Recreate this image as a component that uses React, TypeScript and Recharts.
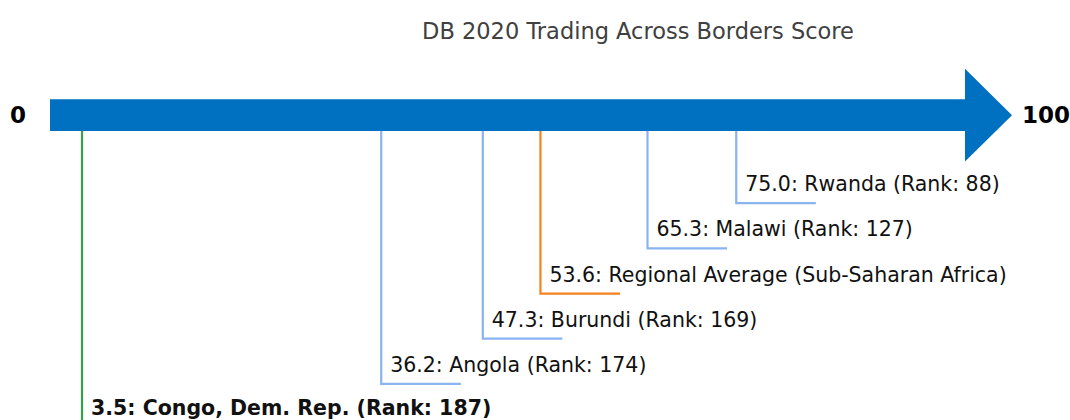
import { ComposedChart, XAxis, YAxis, Line, ReferenceArea } from 'recharts';

const title = 'DB 2020 Trading Across Borders Score';
const economies = ['Congo, Dem. Rep.', 'Angola', 'Burundi', 'Regional Average (Sub-Saharan Africa)', 'Malawi', 'Rwanda'];
const scores = [3.5, 36.2, 47.3, 53.6, 65.3, 75.0];
const ranks = [187, 174, 169, null, 127, 88];
const levels = [5.95, 5, 4, 3, 2, 1];
const kinds = ['focus', 'peer', 'peer', 'average', 'peer', 'peer'];
const scaleEnds = [0, 100];

const COLORS: Record<string, string> = { focus: '#34a24a', peer: '#8ab4f0', average: '#f5821f' };
const ARROW_BLUE = '#0070c0';
const FONT = '"DejaVu Sans", sans-serif';
const SHAFT: [number, number] = [-1.3, -0.6]; // arrow body, in the same units as the levels
const TAIL = 8.7; // horizontal leader length, in score units

const items = economies.map((name, i) => ({
  name,
  kind: kinds[i],
  label: `${scores[i].toFixed(1)}: ${name}${ranks[i] != null ? ` (Rank: ${ranks[i]})` : ''}`,
  points: [
    { x: scores[i], y: SHAFT[1] },
    { x: scores[i], y: levels[i] },
    { x: scores[i] + TAIL, y: levels[i] },
  ],
}));

function Arrow(props: any) {
  const top = Math.min(props.y, props.y + props.height);
  const h = Math.abs(props.height);
  const x0 = props.x;
  const x1 = props.x + props.width;
  const cy = top + h / 2;
  const headHalf = (h / 2) * 2.94;
  const headLen = 47;
  const d = `M${x0},${top} H${x1} V${cy - headHalf} L${x1 + headLen},${cy} L${x1},${cy + headHalf} V${top + h} H${x0} Z`;
  const endStyle = { fontFamily: FONT, fontSize: 23, fontWeight: 'bold' as const, fill: '#000' };
  return (
    <g>
      <path d={d} fill={ARROW_BLUE} />
      <text x={x0 - 24} y={cy + 8} textAnchor="end" style={endStyle}>{scaleEnds[0]}</text>
      <text x={x1 + headLen + 10} y={cy + 8} textAnchor="start" style={endStyle}>{scaleEnds[1]}</text>
    </g>
  );
}

const labelDot = (item: (typeof items)[number]) => (p: any) => {
  if (p.index !== 1) return <g key={`d-${item.name}-${p.index}`} />;
  return (
    <text
      key={`d-${item.name}-${p.index}`}
      x={p.cx + 9}
      y={p.cy - 12}
      textAnchor="start"
      style={{
        fontFamily: FONT,
        fontSize: 20.5,
        fontWeight: item.kind === 'focus' ? 'bold' : 'normal',
        fill: '#111',
      }}
    >
      {item.label}
    </text>
  );
};

export default function App() {
  return (
    <div
      style={{
        position: 'absolute',
        left: 0,
        top: 0,
        width: 1070,
        height: 420,
        overflow: 'hidden',
        background: '#fff',
      }}
    >
      <div
        style={{
          position: 'absolute',
          top: 20,
          left: 638,
          transform: 'translateX(-50%)',
          whiteSpace: 'nowrap',
          fontFamily: FONT,
          fontSize: 22.5,
          lineHeight: '22.5px',
          color: '#404040',
        }}
      >
        {title}
      </div>
      <ComposedChart width={1070} height={429} margin={{ top: 0, right: 105, bottom: 0, left: 50 }}>
        <XAxis type="number" dataKey="x" domain={[0, 100]} hide />
        <YAxis type="number" domain={[-3.5, 6]} reversed hide />
        {items.map((item) => (
          <Line
            key={item.name}
            data={item.points}
            dataKey="y"
            type="linear"
            stroke={COLORS[item.kind]}
            strokeWidth={2.2}
            dot={labelDot(item)}
            activeDot={false}
            isAnimationActive={false}
          />
        ))}
        <ReferenceArea x1={0} x2={100} y1={SHAFT[0]} y2={SHAFT[1]} ifOverflow="visible" shape={Arrow} />
      </ComposedChart>
    </div>
  );
}
